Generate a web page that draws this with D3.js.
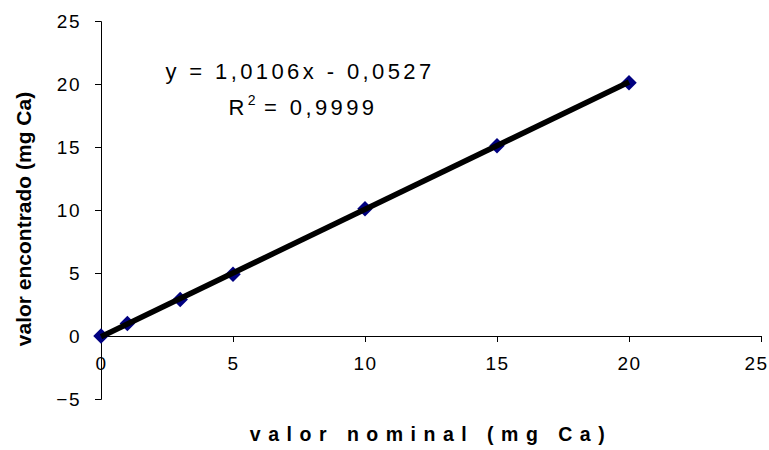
<!DOCTYPE html>
<html>
<head>
<meta charset="utf-8">
<script src="https://cdn.jsdelivr.net/npm/d3@7"></script>
<style>
  body { margin: 0; background: #fff; }
  svg { font-family: "Liberation Sans", Arial, sans-serif; }
</style>
</head>
<body>
<div id="chart"></div>
<script>
// data
var nominal = [0, 1, 3, 5, 10, 15, 20];
var found = [0, 1.0, 2.9, 4.9, 10.1, 15.1, 20.1];
var xTicks = [0, 5, 10, 15, 20, 25];
var yTicks = [-5, 0, 5, 10, 15, 20, 25];
var slope = 1.0106, intercept = -0.0527;

var width = 769, height = 450;

var x = d3.scaleLinear().domain([0, 25]).range([101, 761]);
var y = d3.scaleLinear().domain([-5, 25]).range([399, 21]);

var svg = d3.select("#chart").append("svg")
    .attr("width", width)
    .attr("height", height);

// y axis at x = 0
var yAxis = svg.append("g")
    .attr("transform", "translate(" + x(0) + ",0)")
    .call(d3.axisLeft(y).tickValues(yTicks).tickSize(6).tickPadding(14).tickFormat(d3.format("d")));
yAxis.selectAll("text").style("font-size", "19px").style("letter-spacing", "1.5px").attr("fill", "#000").attr("dy", "0.35em");

// x axis at y = 0
var xAxis = svg.append("g")
    .attr("transform", "translate(0," + y(0) + ")")
    .call(d3.axisBottom(x).tickValues(xTicks).tickSize(6).tickPadding(15));
xAxis.selectAll("text").style("font-size", "19px").style("letter-spacing", "1.5px").attr("fill", "#000");
xAxis.selectAll("text").filter(function (d) { return d === 25; }).attr("dx", -5);

svg.selectAll(".domain").attr("stroke", "#000").attr("stroke-width", 1);
svg.selectAll(".tick line").attr("stroke", "#000");
xAxis.select(".domain").attr("d", "M" + x(0) + ",0.5H" + x(25) + ".5");

// trend line
var trend = [0, 20].map(function (v) { return { x: v, y: slope * v + intercept }; });
var line = d3.line()
    .x(function (d) { return x(d.x); })
    .y(function (d) { return y(d.y); });

// markers
svg.selectAll(".pt")
    .data(nominal.map(function (v, i) { return { x: v, y: found[i] }; }))
    .enter().append("path")
    .attr("class", "pt")
    .attr("d", d3.symbol().type(d3.symbolSquare).size(120))
    .attr("transform", function (d) { return "translate(" + x(d.x) + "," + y(d.y) + ") rotate(45)"; })
    .attr("fill", "#000080");

svg.append("path")
    .datum(trend)
    .attr("d", line)
    .attr("fill", "none")
    .attr("stroke", "#000")
    .attr("stroke-width", 5.5);

// equation text
svg.append("text")
    .attr("x", 300).attr("y", 79)
    .attr("text-anchor", "middle")
    .style("font-size", "22px")
    .style("letter-spacing", "3.4px")
    .text("y = 1,0106x - 0,0527");

var r2 = svg.append("text")
    .attr("x", 303).attr("y", 115)
    .attr("text-anchor", "middle")
    .style("font-size", "22px")
    .style("letter-spacing", "3.4px");
r2.append("tspan").text("R");
r2.append("tspan").attr("dy", -10).style("font-size", "14px").text("2");
r2.append("tspan").attr("dx", 5).attr("dy", 10).text("= 0,9999");

// axis titles
svg.append("text")
    .attr("x", 431).attr("y", 441)
    .attr("text-anchor", "middle")
    .style("font-size", "19.5px")
    .style("font-weight", "bold")
    .style("letter-spacing", "7.5px")
    .text("valor nominal (mg Ca)");

svg.append("text")
    .attr("transform", "translate(31,219) rotate(-90)")
    .attr("text-anchor", "middle")
    .style("font-size", "21px")
    .style("font-weight", "bold")
    .text("valor encontrado (mg Ca)");
</script>
</body>
</html>
